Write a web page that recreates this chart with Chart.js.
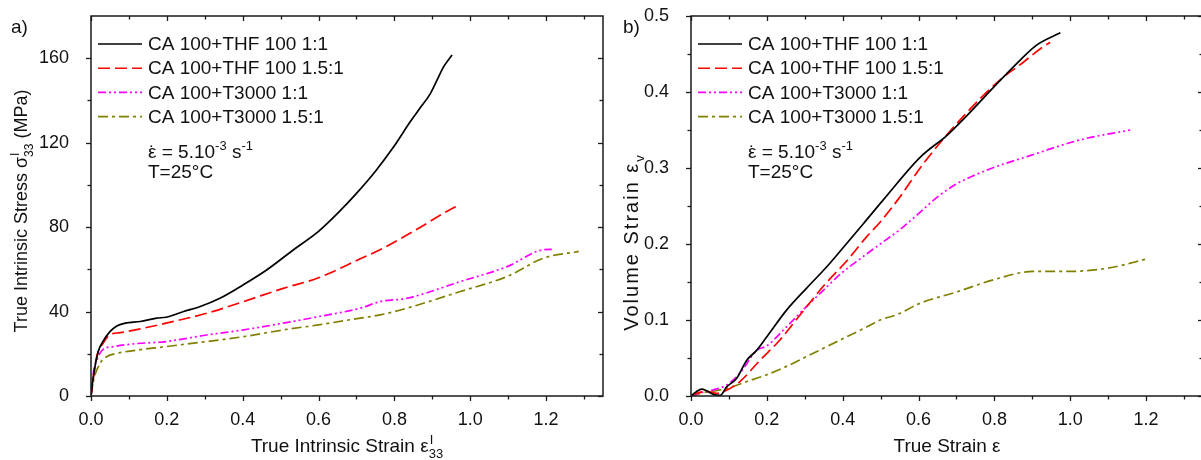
<!DOCTYPE html>
<html><head><meta charset="utf-8">
<script src="https://cdn.jsdelivr.net/npm/chart.js@4/dist/chart.umd.min.js"></script>
<style>
html,body{margin:0;padding:0;background:#fff;overflow:hidden;width:1201px;height:460px;position:relative}
#w1{position:absolute;left:0;top:0;width:610px;height:460px}
#w2{position:absolute;left:600px;top:0;width:612px;height:460px}
</style></head><body>
<div id="w1"><canvas id="c1"></canvas></div>
<div id="w2"><canvas id="c2"></canvas></div>
<script>
// ---------- data ----------
const seriesLabels = ["CA 100+THF 100 1:1","CA 100+THF 100 1.5:1","CA 100+T3000 1:1","CA 100+T3000 1.5:1"];
const seriesColors = ["#000000","#ff0000","#ff00ff","#808000"];
const seriesDash = [[],[12,5],[8,3,2,3,2,3],[10,4,3,4]];

// panel a: true intrinsic strain vs true intrinsic stress (MPa)
const a_thf11 = [[0,0],[0.006,9],[0.019,21],[0.032,26],[0.05,30.5],[0.068,33.2],[0.09,34.5],[0.13,35.3],[0.173,36.9],[0.198,37.3],[0.244,40],[0.288,42.4],[0.34,46.3],[0.4,52.5],[0.464,59.8],[0.534,69.3],[0.6,78],[0.65,86.5],[0.7,96],[0.75,106.5],[0.8,118.5],[0.842,130],[0.87,137],[0.894,143],[0.912,149.5],[0.93,156],[0.952,161.5]];
const a_thf151 = [[0,0],[0.015,18.6],[0.032,25],[0.05,29],[0.077,30],[0.138,32.1],[0.198,34.5],[0.305,39.2],[0.402,44.7],[0.507,51],[0.6,56],[0.71,65],[0.762,69.3],[0.85,78],[0.938,87.4],[0.967,90.2]];
const a_t11 = [[0,0],[0.006,10.8],[0.019,18.6],[0.032,22.1],[0.059,23.4],[0.112,24.7],[0.198,25.8],[0.305,28.9],[0.402,31.3],[0.507,34.5],[0.6,37.6],[0.71,41.6],[0.762,44.7],[0.833,46.3],[0.974,54.2],[1.097,61.3],[1.193,69.3],[1.215,69.5]];
const a_t151 = [[0,0],[0.006,6.8],[0.024,15.5],[0.041,18.6],[0.068,20.2],[0.112,21.5],[0.198,23.4],[0.305,25.8],[0.402,28.1],[0.507,31.3],[0.6,33.7],[0.71,36.9],[0.762,38.4],[0.833,41.6],[0.974,49.5],[1.097,56.6],[1.193,65.3],[1.286,68.5]];

// panel b: true strain vs volume strain
const b_thf11 = [[0,0],[0.015,0.006],[0.028,0.009],[0.041,0.007],[0.059,0.002],[0.077,0.001],[0.094,0.012],[0.12,0.023],[0.147,0.047],[0.173,0.06],[0.2,0.078],[0.252,0.113],[0.305,0.142],[0.358,0.17],[0.411,0.201],[0.455,0.227],[0.507,0.258],[0.604,0.314],[0.675,0.343],[0.714,0.362],[0.807,0.411],[0.868,0.442],[0.912,0.462],[0.974,0.478]];
const b_thf151 = [[0,0],[0.015,0.0035],[0.041,0.006],[0.068,0.0035],[0.103,0.01],[0.129,0.019],[0.182,0.047],[0.235,0.074],[0.288,0.107],[0.35,0.145],[0.411,0.178],[0.464,0.21],[0.499,0.229],[0.551,0.262],[0.613,0.306],[0.718,0.368],[0.815,0.416],[0.868,0.436],[0.93,0.46],[0.947,0.465]];
const b_t11 = [[0,0],[0.024,0.004],[0.05,0.007],[0.094,0.0145],[0.129,0.03],[0.173,0.06],[0.2,0.066],[0.252,0.091],[0.305,0.118],[0.349,0.139],[0.393,0.16],[0.45,0.182],[0.499,0.2],[0.551,0.219],[0.6,0.24],[0.65,0.262],[0.7,0.279],[0.75,0.291],[0.8,0.301],[0.886,0.315],[1.026,0.337],[1.158,0.35]];
const b_t151 = [[0,0],[0.024,0.0035],[0.094,0.01],[0.147,0.019],[0.2,0.028],[0.252,0.039],[0.305,0.052],[0.358,0.065],[0.411,0.078],[0.464,0.091],[0.499,0.1],[0.543,0.107],[0.604,0.122],[0.701,0.137],[0.798,0.153],[0.903,0.164],[1.0,0.164],[1.097,0.168],[1.207,0.181]];

// ticks
const xMajor = [0,0.2,0.4,0.6,0.8,1.0,1.2];
const xMinor = [0.1,0.3,0.5,0.7,0.9,1.1,1.3];
const xRange = [0,1.35];
const aYMajor = [0,40,80,120,160];
const aYMinor = [20,60,100,140];
const aYRange = [0,180];
const bYMajor = [0,0.1,0.2,0.3,0.4,0.5];
const bYMinor = [0.05,0.15,0.25,0.35,0.45];
const bYRange = [0,0.5];

// ---------- helpers ----------
const FF = '"Liberation Sans", Arial, sans-serif';
function rich(ctx, parts, x, y, size, align, spacing){
  const big = size+'px '+FF, small = Math.round(size*0.66)+'px '+FF;
  ctx.letterSpacing = (spacing||0)+'px';
  const items=[]; let w=0;
  for(const p of parts){
    let ww;
    if(p.st!==undefined){ctx.font=small; ww=Math.max(ctx.measureText(p.st).width, ctx.measureText(p.sb).width);}
    else {ctx.font = (p.k==='n'||p.k==='dot')?big:small; ww=ctx.measureText(p.t).width;}
    items.push({p,ww}); w+=ww;
  }
  let cx = align==='center'? x-w/2 : x;
  ctx.textAlign='left'; ctx.textBaseline='alphabetic'; ctx.fillStyle='#111';
  for(const it of items){
    const p=it.p;
    if(p.st!==undefined){ctx.font=small; ctx.fillText(p.st,cx+1,y-size*0.42); ctx.fillText(p.sb,cx,y+size*0.32);}
    else if(p.k==='n'){ctx.font=big; ctx.fillText(p.t,cx,y);}
    else if(p.k==='dot'){ // character with a dot accent above it
      ctx.font=big; ctx.fillText(p.t,cx,y);
      ctx.textAlign='center'; ctx.fillText('\u02d9',cx+it.ww/2,y+1); ctx.textAlign='left';
    }
    else if(p.k==='sup'){ctx.font=small; ctx.fillText(p.t,cx,y-size*0.42);}
    else {ctx.font=small; ctx.fillText(p.t,cx,y+size*0.3);}
    cx+=it.ww;
  }
  ctx.letterSpacing='0px';
}

const framePlugin = {
  id:'frame',
  afterDatasetsDraw(chart){
    const o = chart.options.plugins.frame;
    const {ctx, chartArea:a, scales:{x,y}} = chart;
    ctx.save();
    ctx.strokeStyle='#1a1a1a';
    ctx.lineWidth=1.5;
    ctx.strokeRect(a.left, a.top, a.right-a.left, a.bottom-a.top);
    ctx.lineWidth=1.3;
    const seg=(x1,y1,x2,y2)=>{ctx.beginPath();ctx.moveTo(x1,y1);ctx.lineTo(x2,y2);ctx.stroke();};
    const xt=(v,len)=>{const p=Math.round(x.getPixelForValue(v))+0.5; seg(p,a.bottom,p,a.bottom+len); seg(p,a.top,p,a.top+len);};
    const yt=(v,len)=>{const p=Math.round(y.getPixelForValue(v))+0.5; seg(a.left,p,a.left-len,p); seg(a.right,p,a.right-len,p);};
    o.xMajor.forEach(v=>xt(v,5)); o.xMinor.forEach(v=>xt(v,3.5));
    o.yMajor.forEach(v=>yt(v,5)); o.yMinor.forEach(v=>yt(v,3.5));
    // legend
    const ds = chart.data.datasets;
    const lx = a.left+7, ly = a.top+28, step=24.2;
    ds.forEach((d,i)=>{
      const yy = ly+i*step;
      ctx.strokeStyle=d.borderColor; ctx.lineWidth=1.6; ctx.setLineDash(d.borderDash||[]);
      seg(lx, yy, lx+44, yy);
      ctx.setLineDash([]);
      ctx.font='19px '+FF; ctx.fillStyle='#111'; ctx.textAlign='left'; ctx.textBaseline='middle';
      ctx.fillText(d.label, lx+50, yy+1);
    });
    // annotation
    rich(ctx,[{k:'dot',t:'\u03b5'},{k:'n',t:' = 5.10'},{k:'sup',t:'-3'},{k:'n',t:' s'},{k:'sup',t:'-1'}], a.left+57, a.top+142, 19, 'left');
    rich(ctx,[{k:'n',t:'T=25\u00b0C'}], a.left+57, a.top+162, 19, 'left');
    // panel label
    rich(ctx,[{k:'n',t:o.panel}], o.panelX, 33, 19, 'left');
    // axis titles
    rich(ctx,o.xTitle,(a.left+a.right)/2,452,19,'center');
    ctx.save(); ctx.translate(o.yTitleX, o.yTitleY); ctx.rotate(-Math.PI/2);
    rich(ctx,o.yTitle,0,0,o.yTitleSize,'center',o.yTitleSpacing); ctx.restore();
    ctx.restore();
  }
};

function mkData(arrs){
  return arrs.map((arr,i)=>({
    label: seriesLabels[i],
    data: arr.map(p=>({x:p[0],y:p[1]})),
    borderColor: seriesColors[i], borderDash: seriesDash[i], borderWidth:1.7,
    pointRadius:0, fill:false, tension:0, cubicInterpolationMode:'monotone'
  }));
}

function mkChart(id, arrs, yMajor, yMinor, yRange, yFmt, frameOpts){
  return new Chart(document.getElementById(id), {
    type:'line',
    data:{datasets: mkData(arrs)},
    plugins:[framePlugin],
    options:{
      responsive:true, maintainAspectRatio:false, animation:false,
      layout:{padding:{top:16,right:frameOpts.padRight,left:0,bottom:0}},
      plugins:{legend:{display:false}, tooltip:{enabled:false},
        frame: Object.assign({xMajor, xMinor, yMajor, yMinor}, frameOpts)},
      scales:{
        x:{type:'linear', min:xRange[0], max:xRange[1],
          grid:{display:false}, border:{display:false},
          afterFit(s){s.height=64; s.paddingLeft=0; s.paddingRight=0;},
          afterBuildTicks(s){s.ticks = xMajor.map(v=>({value:v}));},
          ticks:{padding:5, color:'#111', font:{family:FF, size:18}, maxRotation:0, autoSkip:false,
            callback:v=>v.toFixed(1)}},
        y:{type:'linear', min:yRange[0], max:yRange[1],
          grid:{display:false}, border:{display:false},
          afterFit(s){s.width=91; s.paddingTop=0; s.paddingBottom=0;},
          afterBuildTicks(s){s.ticks = yMajor.map(v=>({value:v}));},
          ticks:{padding:14, color:'#111', font:{family:FF, size:18}, autoSkip:false, callback:yFmt}}
      }
    }
  });
}

mkChart('c1',[a_thf11,a_thf151,a_t11,a_t151], aYMajor, aYMinor, aYRange, v=>String(v), {
  padRight:7, panel:'a)', panelX:11,
  xTitle:[{k:'n',t:'True Intrinsic Strain \u03b5'},{st:'I',sb:'33'}],
  yTitle:[{k:'n',t:'True Intrinsic Stress \u03c3'},{st:'I',sb:'33'},{k:'n',t:' (MPa)'}],
  yTitleX:27, yTitleY:211, yTitleSize:18, yTitleSpacing:0
});
mkChart('c2',[b_thf11,b_thf151,b_t11,b_t151], bYMajor, bYMinor, bYRange, v=>v.toFixed(1), {
  padRight:9, panel:'b)', panelX:23,
  xTitle:[{k:'n',t:'True Strain \u03b5'}],
  yTitle:[{k:'n',t:'Volume Strain \u03b5'},{k:'sub',t:'v'}],
  yTitleX:38, yTitleY:242, yTitleSize:20, yTitleSpacing:2
});
</script>
</body></html>
